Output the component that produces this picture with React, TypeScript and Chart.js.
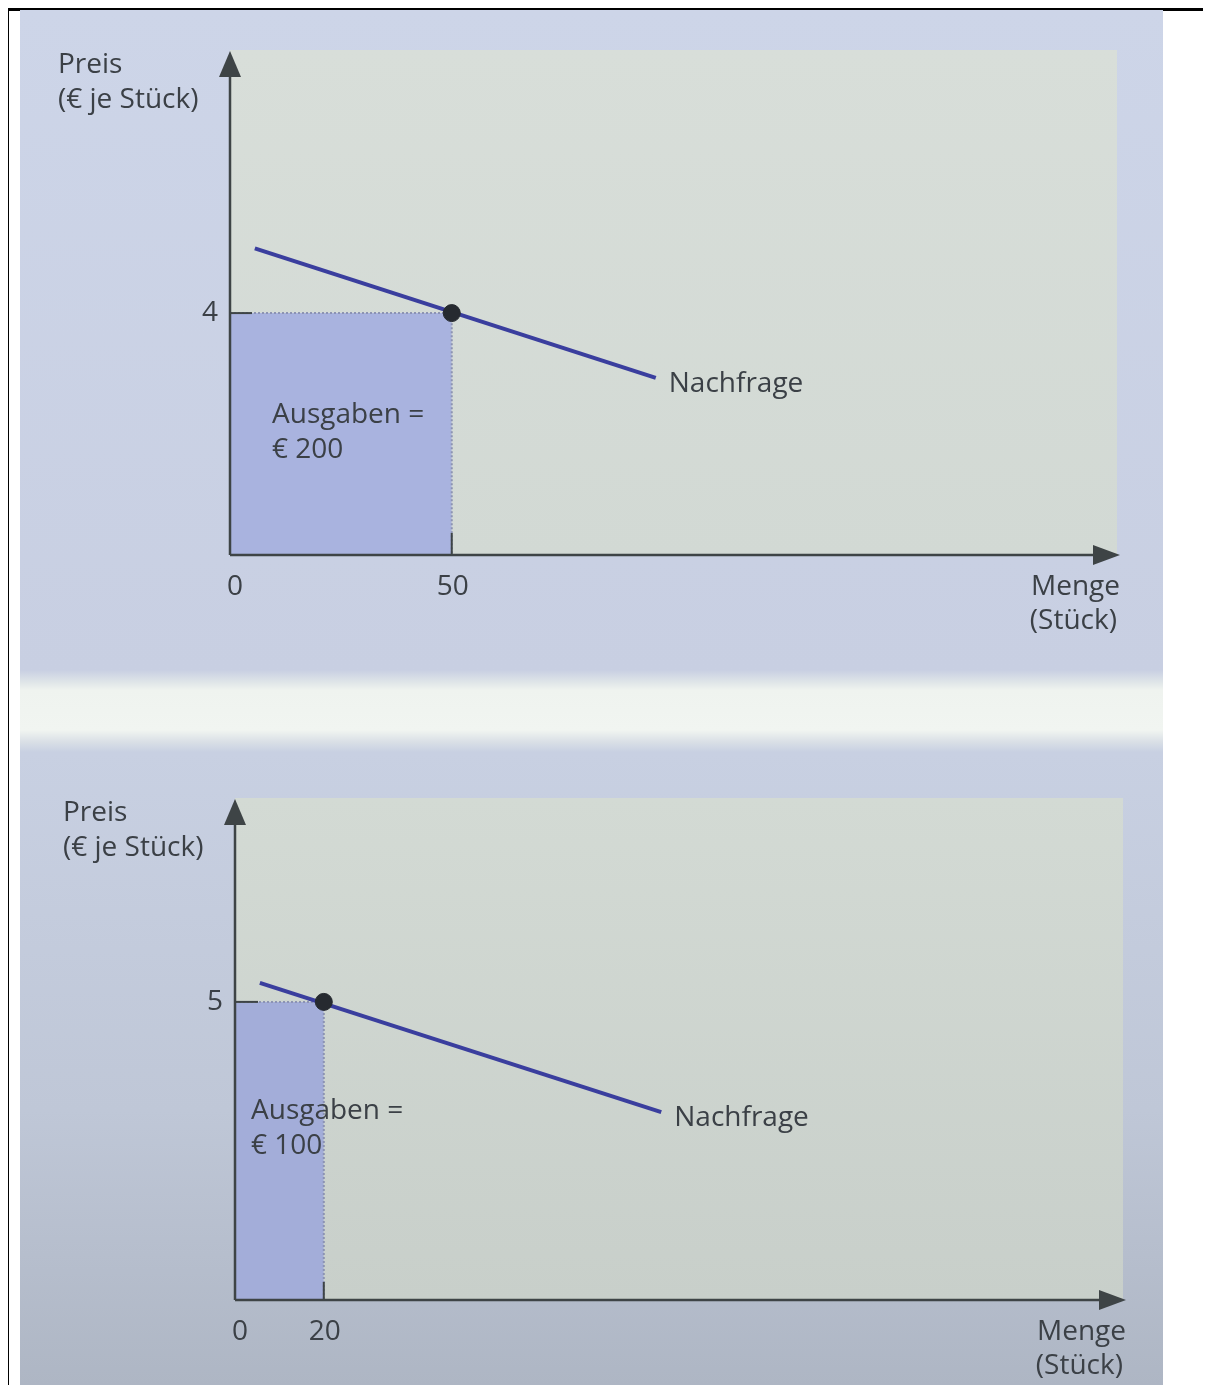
import React, { useEffect, useRef } from 'react';
import { Chart, registerables } from 'chart.js';

Chart.register(...registerables);

if (typeof document !== 'undefined') {
  document.documentElement.style.overflow = 'hidden';
}

// ---------- data ----------
const X_MAX = 200;

const TOP_X_TICKS = [0, 50];
const TOP_Y_TICKS = [4];
const TOP_DEMAND_Q = [5.6, 96];
const TOP_DEMAND_P = [5.07, 2.93];
const TOP_EQ_Q = 50;
const TOP_EQ_P = 4;
const TOP_SPEND = 200;
const TOP_Y_MAX = 8.35;

const BOT_X_TICKS = [0, 20];
const BOT_Y_TICKS = [5];
const BOT_DEMAND_Q = [5.6, 96];
const BOT_DEMAND_P = [5.32, 3.15];
const BOT_EQ_Q = 20;
const BOT_EQ_P = 5;
const BOT_SPEND = 100;
const BOT_Y_MAX = 8.42;

const Y_TITLE = ['Preis', '(€ je Stück)'];
const X_TITLE = ['Menge', '(Stück)'];
const CURVE_LABEL = 'Nachfrage';
const SPEND_LABEL = 'Ausgaben =';

// ---------- styles ----------
const FONT = '28px "Open Sans", Lato, sans-serif';
const TEXT = '#3b4046';
const AXIS = '#3e4446';

type PanelCfg = {
  width: number;
  height: number;
  padding: { left: number; right: number; top: number; bottom: number };
  yMax: number;
  xTicks: number[];
  yTicks: number[];
  demandQ: number[];
  demandP: number[];
  eqQ: number;
  eqP: number;
  spend: number;
  spendOffset: { dx: number; dy: number };
  plotTop: string;
  plotBottom: string;
  rectColor: string;
  yTickLen: number;
  xTickLen: number;
};

function makePlugin(cfg: PanelCfg) {
  return {
    id: 'decor',
    beforeDraw(chart: any) {
      const { ctx, chartArea: a } = chart;
      ctx.save();
      const g = ctx.createLinearGradient(0, a.top, 0, a.bottom);
      g.addColorStop(0, cfg.plotTop);
      g.addColorStop(1, cfg.plotBottom);
      ctx.fillStyle = g;
      ctx.fillRect(a.left, a.top, a.right - a.left, a.bottom - a.top);
      ctx.restore();
    },
    afterDatasetsDraw(chart: any) {
      const { ctx, chartArea: a } = chart;
      const xs = chart.scales.x;
      const ys = chart.scales.y;
      ctx.save();
      ctx.strokeStyle = AXIS;
      ctx.fillStyle = AXIS;
      ctx.lineWidth = 2.5;
      // y axis
      ctx.beginPath();
      ctx.moveTo(a.left, a.bottom);
      ctx.lineTo(a.left, a.top + 20);
      ctx.stroke();
      ctx.beginPath();
      ctx.moveTo(a.left, a.top + 1);
      ctx.lineTo(a.left - 11, a.top + 27);
      ctx.lineTo(a.left + 11, a.top + 27);
      ctx.closePath();
      ctx.fill();
      // x axis
      ctx.beginPath();
      ctx.moveTo(a.left, a.bottom);
      ctx.lineTo(a.right - 20, a.bottom);
      ctx.stroke();
      ctx.beginPath();
      ctx.moveTo(a.right + 3, a.bottom);
      ctx.lineTo(a.right - 24, a.bottom - 10);
      ctx.lineTo(a.right - 24, a.bottom + 10);
      ctx.closePath();
      ctx.fill();
      // tick marks
      ctx.lineWidth = 2;
      cfg.yTicks.forEach((v) => {
        const py = ys.getPixelForValue(v);
        ctx.beginPath();
        ctx.moveTo(a.left, py);
        ctx.lineTo(a.left + cfg.yTickLen, py);
        ctx.stroke();
      });
      cfg.xTicks.forEach((v) => {
        if (v === 0) return;
        const px = xs.getPixelForValue(v);
        ctx.beginPath();
        ctx.moveTo(px, a.bottom);
        ctx.lineTo(px, a.bottom - cfg.xTickLen);
        ctx.stroke();
      });

      // text
      ctx.font = FONT;
      ctx.fillStyle = TEXT;
      ctx.textBaseline = 'middle';
      ctx.textAlign = 'center';
      cfg.yTicks.forEach((v) => {
        ctx.fillText(String(v), a.left - 20, ys.getPixelForValue(v));
      });
      cfg.xTicks.forEach((v) => {
        ctx.fillText(String(v), xs.getPixelForValue(v) + (v === 0 ? 5 : 1), a.bottom + 32);
      });
      ctx.textAlign = 'left';
      ctx.fillText(Y_TITLE[0], a.left - 172, a.top + 15);
      ctx.fillText(Y_TITLE[1], a.left - 172, a.top + 50);
      ctx.textAlign = 'right';
      ctx.fillText(X_TITLE[0], a.right + 3, a.bottom + 32);
      ctx.fillText(X_TITLE[1], a.right, a.bottom + 66);
      ctx.textAlign = 'left';
      const ex = xs.getPixelForValue(cfg.demandQ[1]);
      const ey = ys.getPixelForValue(cfg.demandP[1]);
      ctx.fillText(CURVE_LABEL, ex + 13, ey + 6);
      ctx.fillText(SPEND_LABEL, a.left + cfg.spendOffset.dx, a.bottom - cfg.spendOffset.dy);
      ctx.fillText('€ ' + cfg.spend, a.left + cfg.spendOffset.dx, a.bottom - cfg.spendOffset.dy + 35);
      ctx.restore();
    },
  };
}

function Panel({ cfg, style }: { cfg: PanelCfg; style: React.CSSProperties }) {
  const ref = useRef<HTMLCanvasElement>(null);
  useEffect(() => {
    if (!ref.current) return;
    const chart = new Chart(ref.current, {
      type: 'scatter',
      data: {
        datasets: [
          {
            label: 'Ausgaben',
            data: [
              { x: 0, y: cfg.eqP },
              { x: cfg.eqQ, y: cfg.eqP },
            ],
            showLine: true,
            borderWidth: 0,
            borderColor: 'rgba(0,0,0,0)',
            backgroundColor: cfg.rectColor,
            fill: 'origin',
            pointRadius: 0,
            order: 4,
          },
          {
            label: 'Hilfslinien',
            data: [
              { x: 0, y: cfg.eqP },
              { x: cfg.eqQ, y: cfg.eqP },
              { x: cfg.eqQ, y: 0 },
            ],
            showLine: true,
            borderWidth: 2,
            borderColor: '#8c93b3',
            borderDash: [2, 2],
            pointRadius: 0,
            fill: false,
            order: 3,
          },
          {
            label: 'Nachfrage',
            data: cfg.demandQ.map((q, i) => ({ x: q, y: cfg.demandP[i] })),
            showLine: true,
            borderWidth: 4,
            borderColor: '#3a3e9e',
            pointRadius: 0,
            fill: false,
            order: 2,
          },
          {
            label: 'Punkt',
            data: [{ x: cfg.eqQ, y: cfg.eqP }],
            pointRadius: 8.5,
            pointBackgroundColor: '#262a30',
            pointBorderColor: '#262a30',
            order: 1,
          },
        ],
      },
      options: {
        animation: false,
        responsive: false,
        events: [],
        layout: { padding: cfg.padding },
        plugins: { legend: { display: false }, tooltip: { enabled: false } },
        scales: {
          x: { type: 'linear', min: 0, max: X_MAX, display: false },
          y: { type: 'linear', min: 0, max: cfg.yMax, display: false },
        },
      },
      plugins: [makePlugin(cfg)],
    } as any);
    return () => chart.destroy();
  }, []);
  return (
    <div style={{ position: 'absolute', ...style }}>
      <canvas ref={ref} width={cfg.width} height={cfg.height} style={{ display: 'block' }} />
    </div>
  );
}

const topCfg: PanelCfg = {
  width: 1143,
  height: 670,
  padding: { left: 210, right: 46, top: 40, bottom: 125 },
  yMax: TOP_Y_MAX,
  xTicks: TOP_X_TICKS,
  yTicks: TOP_Y_TICKS,
  demandQ: TOP_DEMAND_Q,
  demandP: TOP_DEMAND_P,
  eqQ: TOP_EQ_Q,
  eqP: TOP_EQ_P,
  spend: TOP_SPEND,
  spendOffset: { dx: 42, dy: 140 },
  plotTop: '#d8ded9',
  plotBottom: '#d2d9d4',
  rectColor: '#a9b3df',
  yTickLen: 22,
  xTickLen: 22,
};

const botCfg: PanelCfg = {
  width: 1143,
  height: 647,
  padding: { left: 215, right: 40, top: 60, bottom: 85 },
  yMax: BOT_Y_MAX,
  xTicks: BOT_X_TICKS,
  yTicks: BOT_Y_TICKS,
  demandQ: BOT_DEMAND_Q,
  demandP: BOT_DEMAND_P,
  eqQ: BOT_EQ_Q,
  eqP: BOT_EQ_P,
  spend: BOT_SPEND,
  spendOffset: { dx: 16, dy: 189 },
  plotTop: '#d3dad4',
  plotBottom: '#c8cfca',
  rectColor: '#a3add9',
  yTickLen: 23,
  xTickLen: 18,
};

export default function App() {
  return (
    <div style={{ position: 'relative', width: 1203, height: 1377, background: '#ffffff' }}>
      <div style={{ position: 'absolute', left: -2, top: 0, width: 1205, height: 3, background: '#000' }} />
      <div style={{ position: 'absolute', left: -2, top: 0, width: 3, height: 1377, background: '#000' }} />
      <div
        style={{
          position: 'absolute',
          left: 12,
          top: 2,
          width: 1143,
          height: 1375,
          background:
            'linear-gradient(to bottom, #cdd5e8 0px, #c8cfe2 660px, #dfe5e8 672px, #eff3ef 680px, #f1f5f1 720px, #d9dfe6 732px, #c8d0e2 742px, #bfc7d7 1100px, #aeb6c4 1375px)',
        }}
      />
      <Panel cfg={topCfg} style={{ left: 12, top: 2 }} />
      <Panel cfg={botCfg} style={{ left: 12, top: 730 }} />
    </div>
  );
}
